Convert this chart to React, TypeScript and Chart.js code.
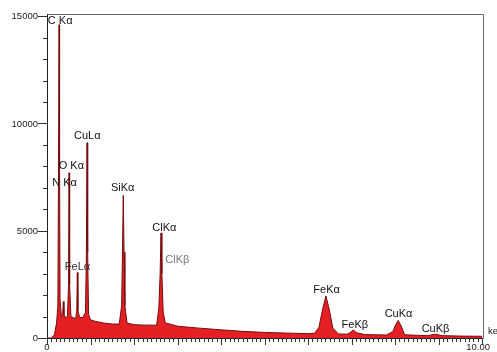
import React, { useEffect, useRef } from "react";
import { Chart, registerables } from "chart.js";

Chart.register(...registerables);

// Spectrum: energy (keV) and counts
const energyKeV = [
  0.0, 0.1, 0.17, 0.22, 0.25, 0.265, 0.277, 0.289, 0.3, 0.33,
  0.36, 0.375, 0.39, 0.43, 0.47, 0.495, 0.507, 0.52, 0.55, 0.6,
  0.66, 0.685, 0.697, 0.71, 0.75, 0.82, 0.885, 0.905, 0.92, 0.935,
  0.955, 1.0, 1.1, 1.3, 1.5, 1.66, 1.715, 1.735, 1.753, 1.771,
  1.79, 1.84, 2.0, 2.3, 2.52, 2.57, 2.6, 2.62, 2.64, 2.67,
  2.72, 2.82, 3.0, 3.5, 4.0, 4.5, 5.0, 5.5, 6.0, 6.15,
  6.25, 6.33, 6.41, 6.49, 6.57, 6.7, 6.9, 6.97, 7.04, 7.11,
  7.3, 7.8, 7.95, 8.0, 8.07, 8.14, 8.22, 8.75, 8.92, 9.08,
  9.5, 10.0,
];
const counts = [
  0, 0, 150, 700, 1500, 8000, 14600, 8000, 1800, 1000,
  1100, 1700, 1100, 950, 1000, 2500, 7700, 2500, 1000, 950,
  900, 1300, 3050, 1300, 950, 950, 1200, 4000, 9100, 4000,
  1100, 850, 780, 700, 650, 650, 1500, 4000, 6650, 4000,
  1500, 700, 620, 600, 600, 1400, 3000, 4900, 3000, 1200,
  700, 650, 550, 460, 380, 310, 260, 230, 200, 220,
  500, 1300, 1960, 1300, 450, 190, 180, 260, 370, 250,
  160, 140, 300, 560, 820, 560, 150, 110, 180, 110,
  90, 80,
];

// Peak labels and their anchors (keV, counts)
const peakNames = [
  "C Kα", "O Kα", "N Kα", "CuLα", "SiKα", "ClKα", "ClKβ",
  "FeLα", "FeKα", "FeKβ", "CuKα", "CuKβ",
];
const peakLabelKeV = [0.02, 0.27, 0.12, 0.62, 1.47, 2.42, 2.72, 0.41, 6.12, 6.77, 7.76, 8.61];
const peakLabelCounts = [14780, 8000, 7240, 9400, 7000, 5150, 3620, 3290, 2260, 600, 1140, 420];
const peakLabelColors = [
  "#111", "#111", "#111", "#111", "#111", "#111", "#777",
  "#333", "#111", "#111", "#111", "#111",
];

const yTickValues = [0, 5000, 10000, 15000];
const yTickLabels = ["0", "5000", "10000", "15000"];
const xTickValues = [0, 10];
const xTickLabels = ["0", "10.00"];
const xUnit = "keV";

const FONT = '"Liberation Sans", Arial, sans-serif';

const framePlugin = {
  id: "edsFrame",
  afterDraw(chart: any) {
    const ctx = chart.ctx as CanvasRenderingContext2D;
    const xs = chart.scales.x;
    const ys = chart.scales.y;
    const { left, right, top, bottom } = chart.chartArea;
    ctx.save();

    // frame
    ctx.lineWidth = 1;
    ctx.strokeStyle = "#666";
    ctx.beginPath();
    ctx.moveTo(left, top + 0.5);
    ctx.lineTo(right + 0.5, top + 0.5);
    ctx.lineTo(right + 0.5, bottom);
    ctx.stroke();
    ctx.strokeStyle = "#222";
    ctx.beginPath();
    ctx.moveTo(left + 0.5, top);
    ctx.lineTo(left + 0.5, bottom + 0.5);
    ctx.lineTo(right + 0.5, bottom + 0.5);
    ctx.stroke();

    // y ticks every 1000, major every 5000
    ctx.strokeStyle = "#333";
    ctx.beginPath();
    for (let v = 0; v <= 15000; v += 1000) {
      const y = Math.round(ys.getPixelForValue(v)) + 0.5;
      const len = v % 5000 === 0 ? 9 : 4;
      ctx.moveTo(left - len, y);
      ctx.lineTo(left, y);
    }
    // x ticks every 0.1 keV, major every 1 keV
    for (let k = 0; k <= 100; k++) {
      const x = Math.round(xs.getPixelForValue(k / 10)) + 0.5;
      const len = k % 10 === 0 ? 7 : 4;
      ctx.moveTo(x, bottom);
      ctx.lineTo(x, bottom + len);
    }
    ctx.stroke();

    // y labels
    ctx.fillStyle = "#222";
    ctx.font = `9.5px ${FONT}`;
    ctx.textAlign = "right";
    ctx.textBaseline = "middle";
    yTickValues.forEach((v, i) => {
      ctx.fillText(yTickLabels[i], left - 9, ys.getPixelForValue(v) + 0.5);
    });

    // x labels
    ctx.textAlign = "center";
    xTickValues.forEach((v, i) => {
      const x = xs.getPixelForValue(v);
      const off = i === xTickValues.length - 1 ? -4 : 0;
      ctx.fillText(xTickLabels[i], x + off, bottom + 9.5);
    });
    ctx.textAlign = "left";
    ctx.fillText(xUnit, right + 5, bottom - 7);

    // peak labels
    ctx.font = `11px ${FONT}`;
    ctx.textAlign = "left";
    ctx.textBaseline = "middle";
    peakNames.forEach((name, i) => {
      ctx.fillStyle = peakLabelColors[i];
      ctx.fillText(name, xs.getPixelForValue(peakLabelKeV[i]), ys.getPixelForValue(peakLabelCounts[i]));
    });

    ctx.restore();
  },
};

export default function App() {
  const canvasRef = useRef<HTMLCanvasElement | null>(null);

  useEffect(() => {
    if (!canvasRef.current) return;
    const chart = new Chart(canvasRef.current, {
      type: "line",
      data: {
        datasets: [
          {
            data: energyKeV.map((e, i) => ({ x: e, y: counts[i] })),
            fill: "origin",
            backgroundColor: "rgb(228, 32, 36)",
            borderColor: "rgb(120, 12, 12)",
            borderWidth: 1,
            pointRadius: 0,
            tension: 0,
          },
        ],
      },
      options: {
        animation: false,
        responsive: false,
        maintainAspectRatio: false,
        layout: { padding: { left: 47, right: 14, top: 14, bottom: 14 } },
        plugins: { legend: { display: false }, tooltip: { enabled: false } },
        scales: {
          x: { type: "linear", min: 0, max: 10.02, display: false },
          y: { type: "linear", min: 0, max: 15100, display: false },
        },
      },
      plugins: [framePlugin],
    });
    return () => chart.destroy();
  }, []);

  return (
    <div style={{ position: "fixed", left: 0, top: 0, width: 497, height: 352, background: "#fff" }}>
      <canvas ref={canvasRef} width={497} height={352} style={{ display: "block" }} />
    </div>
  );
}
